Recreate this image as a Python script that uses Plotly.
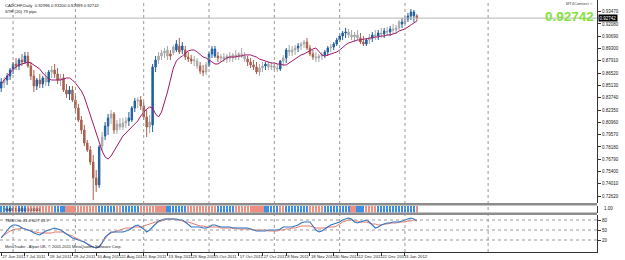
import plotly.graph_objects as go

# ---------------- data ----------------
symbol_header = "CADCHF,Daily  0.92996 0.93200 0.92399 0.92742"
ind_header = "STR (20) 79 pips"

opens = [.8485,.8541,.8575,.8620,.8688,.8756,.8733,.8801,.8778,.8846,
         .8733,.8620,.8507,.8575,.8530,.8598,.8552,.8665,.8688,.8643,
         .8575,.8598,.8462,.8417,.8462,.8349,.8259,.8123,.8010,.7863,
         .7784,.7648,.7468,.7389,.7829,.7942,.8055,.8146,.8191,.8010,
         .8078,.8044,.8089,.8112,.8123,.8259,.8338,.8349,.8281,.8157,
         .8044,.8067,.8722,.8801,.8846,.8880,.8914,.8846,.8880,.8982,
         .8891,.8959,.8914,.8835,.8812,.8790,.8790,.8733,.8677,.8665,
         .8745,.8869,.8925,.8846,.8824,.8835,.8812,.8846,.8824,.8858,
         .8835,.8869,.8846,.8812,.8778,.8745,.8722,.8665,.8711,.8733,
         .8756,.8722,.8733,.8711,.8699,.8790,.8824,.8914,.8891,.8914,
         .8937,.8959,.8982,.9004,.8937,.8869,.8835,.8824,.8846,.8858,
         .8891,.8937,.8948,.8982,.9027,.9072,.9106,.9117,.9084,.9061,
         .9084,.9050,.9004,.8982,.9027,.9050,.9084,.9072,.9106,.9095,
         .9129,.9117,.9151,.9140,.9163,.9230,.9208,.9264,.9298,.9343,
         .92996]
highs = [.8598,.8609,.8654,.8711,.8778,.8824,.8824,.8869,.8891,.8891,
         .8778,.8688,.8598,.8643,.8620,.8665,.8688,.8733,.8756,.8711,
         .8643,.8643,.8530,.8507,.8507,.8417,.8304,.8168,.8067,.7897,
         .7829,.7728,.7558,.7841,.7987,.8100,.8191,.8236,.8213,.8123,
         .8146,.8146,.8157,.8213,.8281,.8372,.8383,.8394,.8326,.8236,
         .8180,.8756,.8846,.8891,.8914,.8937,.8959,.8914,.8971,.9027,
         .9050,.9004,.8959,.8891,.8858,.8846,.8824,.8778,.8745,.8778,
         .8891,.8959,.8959,.8891,.8869,.8880,.8869,.8891,.8880,.8914,
         .8891,.8937,.8891,.8846,.8824,.8801,.8778,.8756,.8778,.8778,
         .8778,.8778,.8778,.8756,.8801,.8858,.8937,.8971,.8959,.8971,
         .8993,.9004,.9027,.9050,.8971,.8914,.8891,.8869,.8891,.8914,
         .8959,.8982,.9004,.9050,.9095,.9129,.9163,.9151,.9140,.9117,
         .9140,.9106,.9072,.9050,.9095,.9117,.9140,.9140,.9163,.9163,
         .9174,.9185,.9208,.9197,.9253,.9276,.9298,.9332,.9377,.9366,
         .93200]
lows = [.8439,.8485,.8519,.8575,.8643,.8688,.8688,.8733,.8756,.8711,
        .8575,.8439,.8462,.8485,.8485,.8507,.8507,.8598,.8598,.8530,
        .8507,.8439,.8372,.8349,.8326,.8213,.8100,.7965,.7829,.7761,
        .7615,.7219,.7310,.7355,.7784,.7897,.7954,.8078,.7965,.7965,
        .8010,.8010,.8033,.8055,.8100,.8213,.8259,.8236,.8123,.7931,
        .7976,.7987,.8665,.8756,.8801,.8824,.8801,.8801,.8858,.8891,
        .8869,.8869,.8801,.8778,.8756,.8733,.8699,.8643,.8620,.8632,
        .8722,.8824,.8824,.8778,.8778,.8778,.8767,.8778,.8778,.8801,
        .8801,.8824,.8778,.8733,.8711,.8688,.8643,.8620,.8665,.8688,
        .8688,.8688,.8688,.8665,.8677,.8733,.8767,.8846,.8846,.8858,
        .8891,.8914,.8937,.8914,.8846,.8801,.8778,.8778,.8801,.8824,
        .8846,.8891,.8914,.8959,.9004,.9027,.9050,.9050,.9027,.9004,
        .9027,.8982,.8959,.8959,.8982,.9004,.9027,.9027,.9050,.9050,
        .9072,.9072,.9095,.9095,.9140,.9163,.9185,.9230,.9253,.9230,
        .92399]
closes = [.8552,.8575,.8620,.8688,.8756,.8733,.8801,.8778,.8846,.8733,
          .8620,.8507,.8575,.8530,.8598,.8552,.8665,.8688,.8643,.8575,
          .8598,.8462,.8417,.8462,.8349,.8259,.8123,.8010,.7863,.7784,
          .7648,.7468,.7389,.7818,.7931,.8055,.8146,.8191,.8010,.8078,
          .8044,.8089,.8112,.8146,.8259,.8338,.8349,.8281,.8157,.8044,
          .8100,.8722,.8801,.8846,.8880,.8903,.8846,.8869,.8948,.8914,
          .8959,.8914,.8835,.8812,.8790,.8801,.8733,.8677,.8665,.8745,
          .8869,.8925,.8846,.8824,.8835,.8812,.8846,.8824,.8858,.8835,
          .8869,.8846,.8812,.8778,.8745,.8722,.8665,.8711,.8733,.8756,
          .8722,.8733,.8711,.8699,.8790,.8824,.8914,.8891,.8914,.8937,
          .8959,.8982,.9004,.8937,.8869,.8835,.8824,.8846,.8858,.8891,
          .8937,.8948,.8982,.9027,.9072,.9106,.9117,.9084,.9061,.9084,
          .9050,.9004,.8982,.9027,.9050,.9084,.9072,.9106,.9095,.9129,
          .9117,.9151,.9140,.9163,.9230,.9208,.9264,.9298,.9343,.9300,
          .92742]
# candle colour class: b = blue, r = brown/red, g = grey
candle_cls = ("bgbbbrbrbr" "rrbrbgbgrr" "grrbrrrrrr" "rrrbgbbgrg"
              "gggbbbgrrr" "gbbggggrgb" "rbrrrggrrg" "bbbrgggggg"
              "gggrrrrggb" "ggggbgbggg" "bggrrrgggb" "bgbbbbbggg"
              "grrbgbgbgb" "gbgggbgbbb" "r")
ma_line = [.8530,.8575,.8620,.8665,.8699,.8722,.8745,.8756,.8767,.8778,
           .8767,.8745,.8722,.8699,.8654,.8620,.8586,.8575,.8575,.8575,
           .8575,.8586,.8598,.8598,.8575,.8541,.8496,.8451,.8383,.8281,
           .8180,.8067,.7965,.7863,.7773,.7705,.7682,.7716,.7773,.7841,
           .7897,.7942,.7976,.8010,.8044,.8078,.8112,.8168,.8213,.8247,
           .8270,.8259,.8191,.8157,.8213,.8315,.8439,.8575,.8711,.8790,
           .8824,.8846,.8880,.8903,.8914,.8914,.8891,.8858,.8835,.8824,
           .8801,.8778,.8756,.8756,.8778,.8801,.8824,.8835,.8835,.8835,
           .8846,.8846,.8858,.8858,.8858,.8846,.8835,.8812,.8801,.8790,
           .8778,.8767,.8767,.8756,.8756,.8745,.8745,.8767,.8790,.8812,
           .8835,.8858,.8869,.8891,.8903,.8925,.8937,.8903,.8858,.8846,
           .8858,.8869,.8880,.8891,.8914,.8948,.8971,.8993,.9004,.9016,
           .9027,.9027,.9038,.9038,.9050,.9050,.9061,.9061,.9072,.9072,
           .9084,.9084,.9095,.9106,.9129,.9140,.9151,.9174,.9197,.9219,
           .9242]
strip_cls = ("bbbbrrbbbr" "rrrrrrrrbb" "bbrrrrrrrr" "rrrbbbbbbr"
             "rbbbbbbrrr" "rrrrrrbbbb" "bbbrrrrrrr" "rrrbbbbbbr"
             "rrrrrrrrrb" "bbbbrrbbbb" "bbbbrrrrrb" "bbbbbbbbrr"
             "bbbrrrrbbb" "bbbbbbbbbb" "r")
osc_blue = [26,38,50,59,65,65,62,56,53,50,47,41,38,35,41,47,50,53,56,53,
            50,44,38,32,26,23,20,17,14,8,2,-1,-4,-1,11,29,38,44,44,44,
            44,44,47,50,56,62,65,59,53,44,50,59,68,77,80,83,83,83,83,83,
            80,80,74,65,59,59,59,59,56,56,59,65,65,62,59,59,59,59,56,56,
            56,56,56,56,53,50,47,47,47,47,50,50,50,50,53,59,59,59,59,62,
            65,71,74,74,74,62,50,44,47,53,59,65,68,71,74,80,83,86,83,74,
            71,74,77,80,74,65,56,59,65,68,71,71,74,74,74,77,80,83,86,83,
            77]
osc_red = [29,35,41,47,50,53,53,56,53,50,47,44,44,41,41,41,41,41,44,44,
           44,44,38,35,32,26,23,17,14,8,5,-1,-4,2,11,23,35,41,44,47,
           50,53,56,56,56,59,59,59,62,65,68,71,74,74,77,80,83,83,83,80,
           80,77,74,74,71,68,65,62,62,59,59,59,59,59,56,56,56,56,56,56,
           53,53,53,53,53,50,50,50,50,50,47,47,47,47,50,50,53,53,56,56,
           59,62,62,62,62,59,56,56,56,56,59,59,59,62,68,74,77,80,80,77,
           77,74,74,74,71,68,68,65,65,68,68,71,71,71,74,74,74,77,77,80,
           80]
osc_levels = [80, 50, 20]

date_tick_idx = [0, 8, 16, 24, 32, 40, 48, 56, 64, 72, 80, 88, 96, 104, 112, 120, 128, 136]
date_tick_txt = ["27 Jun 2011", "7 Jul 2011", "19 Jul 2011", "29 Jul 2011", "10 Aug 2011",
                 "22 Aug 2011", "1 Sep 2011", "13 Sep 2011", "23 Sep 2011", "5 Oct 2011",
                 "17 Oct 2011", "27 Oct 2011", "8 Nov 2011", "18 Nov 2011", "30 Nov 2011",
                 "12 Dec 2011", "22 Dec 2011", "3 Jan 2012"]
grid_idx = [4, 25, 48, 70, 92, 114, 136, 164]
price_ticks = [0.93470, 0.92080, 0.90690, 0.89300, 0.87910, 0.86520, 0.85130, 0.83740,
               0.82350, 0.80960, 0.79570, 0.78180, 0.76790, 0.75400, 0.74010, 0.72620]
last_price = 0.92742

# ---------------- figure ----------------
W, H = 625, 260
AXIS_X = 597
def fy(px):
    return 1 - px / H

FONT = "Liberation Sans, Arial, sans-serif"
BLUE_C = "#22609f"
RED_C = "#a8604f"
GREY_C = "#a9a9a9"
STRIP_B = "#3d8fe6"
STRIP_R = "#ef8f82"

idx = list(range(len(closes)))
fig = go.Figure()

for cls, col in (("g", GREY_C), ("r", RED_C), ("b", BLUE_C)):
    sel = [i for i in idx if candle_cls[i] == cls]
    fig.add_trace(go.Candlestick(
        x=sel, open=[opens[i] for i in sel], high=[highs[i] for i in sel],
        low=[lows[i] for i in sel], close=[closes[i] for i in sel],
        increasing=dict(line=dict(color=col, width=1), fillcolor=col),
        decreasing=dict(line=dict(color=col, width=1), fillcolor=col),
        whiskerwidth=0, xaxis="x", yaxis="y", showlegend=False, hoverinfo="skip"))

fig.add_trace(go.Scatter(x=idx, y=ma_line, mode="lines", line=dict(color="#a3196b", width=1),
                         xaxis="x", yaxis="y", showlegend=False, hoverinfo="skip"))

fig.add_trace(go.Bar(x=idx, y=[1] * len(idx), width=0.72,
                     marker=dict(color=[STRIP_B if c == "b" else STRIP_R for c in strip_cls], line=dict(width=0)),
                     xaxis="x2", yaxis="y2", showlegend=False, hoverinfo="skip"))

fig.add_trace(go.Scatter(x=idx, y=osc_red, mode="lines", line=dict(color="#e9796c", width=1),
                         xaxis="x3", yaxis="y3", showlegend=False, hoverinfo="skip"))
fig.add_trace(go.Scatter(x=idx, y=osc_blue, mode="lines", line=dict(color="#2f74c4", width=1.1),
                         xaxis="x3", yaxis="y3", showlegend=False, hoverinfo="skip"))

xdom = [0, AXIS_X / W]
xr = [-0.4, (AXIS_X - 1) / 2.97]
common_x = dict(domain=xdom, range=xr, showgrid=False, zeroline=False, fixedrange=True, automargin=False)

shapes = []
for g in grid_idx:
    shapes.append(dict(type="line", xref="x", yref="paper", x0=g, x1=g, y0=fy(252), y1=1,
                       line=dict(color="#9a9a9a", width=1, dash="dot")))
for lv in osc_levels:
    shapes.append(dict(type="line", xref="paper", yref="y3", x0=0, x1=AXIS_X / W, y0=lv, y1=lv,
                       line=dict(color="#9a9a9a", width=1, dash="dot")))
shapes.append(dict(type="line", xref="paper", yref="y", x0=0, x1=AXIS_X / W, y0=last_price, y1=last_price,
                   line=dict(color="#b5b5b5", width=1)))
for a, b in ((203, 205.5), (212.5, 215)):
    shapes.append(dict(type="rect", xref="paper", yref="paper", x0=0, x1=AXIS_X / W, y0=fy(b), y1=fy(a),
                       fillcolor="#8c8c8c", line=dict(width=0)))

annotations = [
    dict(text=symbol_header, x=0.004, y=fy(1.5), xref="paper", yref="paper", xanchor="left", yanchor="top",
         showarrow=False, font=dict(family=FONT, size=4.2, color="#222")),
    dict(text=ind_header, x=0.004, y=fy(7), xref="paper", yref="paper", xanchor="left", yanchor="top",
         showarrow=False, font=dict(family=FONT, size=4.2, color="#222")),
    dict(text="<b>0.92742</b>", x=AXIS_X / W - 0.002, y=fy(16), xref="paper", yref="paper",
         xanchor="right", yanchor="middle", showarrow=False,
         font=dict(family=FONT, size=13.5, color="#84e23c")),
    dict(text="MT4Connect \u25cb", x=AXIS_X / W - 0.004, y=fy(4), xref="paper", yref="paper",
         xanchor="right", yanchor="middle", showarrow=False, font=dict(family=FONT, size=4, color="#444")),
    dict(text="0.92742", x=AXIS_X / W + 0.002, y=last_price, xref="paper", yref="y",
         xanchor="left", yanchor="middle", showarrow=False, bgcolor="#000", borderpad=0.5,
         font=dict(family=FONT, size=4.5, color="#fff")),
    dict(text="HAS 1.0000 0.0000", x=0.004, y=fy(209), xref="paper", yref="paper", xanchor="left",
         yanchor="middle", showarrow=False, font=dict(family=FONT, size=4, color="#222")),
    dict(text="TMS-Osc 61.6 60.7 61.9", x=0.004, y=fy(216), xref="paper", yref="paper", xanchor="left",
         yanchor="top", showarrow=False, font=dict(family=FONT, size=4, color="#222")),
    dict(text="MetaTrader - Alpari UK, \u00a9 2001-2011 MetaQuotes Software Corp.", x=0.004, y=fy(251),
         xref="paper", yref="paper", xanchor="left", yanchor="bottom", showarrow=False,
         font=dict(family=FONT, size=4, color="#222")),
    dict(text="1.00", x=AXIS_X / W + 0.008, y=fy(208), xref="paper", yref="paper", xanchor="left",
         yanchor="middle", showarrow=False, font=dict(family=FONT, size=4.5, color="#222")),
]

fig.update_layout(
    width=W, height=H, margin=dict(l=0, r=0, t=0, b=0, autoexpand=False),
    paper_bgcolor="white", plot_bgcolor="white", showlegend=False, bargap=0,
    font=dict(family=FONT, size=5, color="#222"),
    xaxis=dict(**common_x, anchor="y", showticklabels=False, rangeslider=dict(visible=False)),
    xaxis2=dict(**common_x, anchor="y2", matches="x", showticklabels=False),
    xaxis3=dict(**common_x, anchor="y3", matches="x", tickvals=date_tick_idx, ticktext=date_tick_txt,
                tickangle=0, ticks="outside", ticklen=3, tickcolor="#333", ticklabelposition="outside right",
                tickfont=dict(family=FONT, size=4.3, color="#222"), showline=True, linecolor="#333", linewidth=1),
    yaxis=dict(domain=[fy(203), 1], range=[0.7185, 0.9479], side="right", anchor="x", automargin=False,
               tickvals=price_ticks, ticktext=[f"{v:.5f}" for v in price_ticks], ticks="outside",
               ticklen=3, tickcolor="#333", showgrid=False, zeroline=False, showline=True,
               linecolor="#333", linewidth=1, tickfont=dict(family=FONT, size=4.5, color="#222"), fixedrange=True),
    yaxis2=dict(domain=[fy(212.5), fy(205.5)], range=[0, 1], side="right", anchor="x2", showticklabels=False,
                automargin=False, showgrid=False, zeroline=False, showline=True, linecolor="#333", fixedrange=True),
    yaxis3=dict(domain=[fy(252), fy(215)], range=[-16, 95], side="right", anchor="x3", automargin=False,
                tickvals=osc_levels, ticktext=[str(v) for v in osc_levels], ticks="outside", ticklen=3,
                tickcolor="#333", showgrid=False, zeroline=False, showline=True, linecolor="#333", linewidth=1,
                tickfont=dict(family=FONT, size=4.5, color="#222"), fixedrange=True),
    shapes=shapes, annotations=annotations,
)

fig.write_html("out.html")
